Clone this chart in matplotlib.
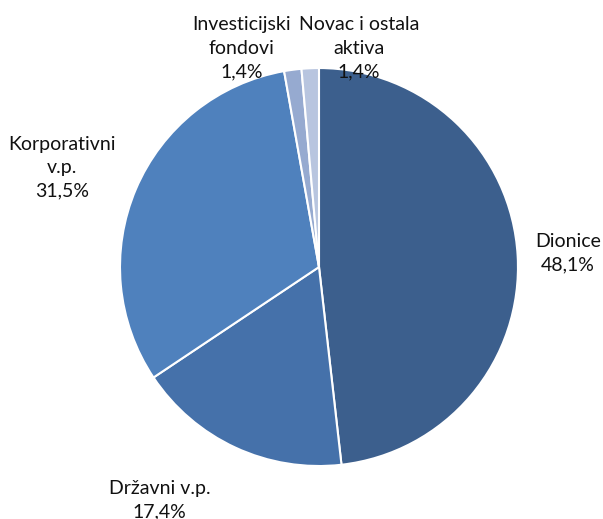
import numpy as np
import matplotlib.pyplot as plt

labels = ['Dionice', 'Državni v.p.', 'Korporativni\nv.p.', 'Investicijski\nfondovi', 'Novac i ostala\naktiva']
shares = [48.1, 17.4, 31.5, 1.4, 1.4]
colors = ['#3c5f8d', '#4571aa', '#4f81bd', '#96aad0', '#b8c5df']

# label centres in pie-radius units (hand placed like Excel does it)
label_pos = [(1.25, 0.07), (-0.80, -1.17), (-1.29, 0.50), (-0.39, 1.10), (0.20, 1.10)]

fig = plt.figure(figsize=(6.03, 5.19), dpi=100)
ax = fig.add_axes([0.199, 0.102, 0.660, 0.767])
ax.pie(shares, colors=colors, startangle=90, counterclock=False, radius=1,
       wedgeprops=dict(edgecolor='white', linewidth=1.5))
ax.set_xlim(-1, 1)
ax.set_ylim(-1, 1)
ax.set_aspect('equal')
ax.axis('off')

for lab, val, (x, y) in zip(labels, shares, label_pos):
    txt = lab + '\n' + ('%.1f%%' % val).replace('.', ',')
    ax.text(x, y, txt, ha='center', va='center', fontsize=14, family='Lato',
            color='#111111', linespacing=1.45, clip_on=False)

fig.savefig('out.png', dpi=100)
